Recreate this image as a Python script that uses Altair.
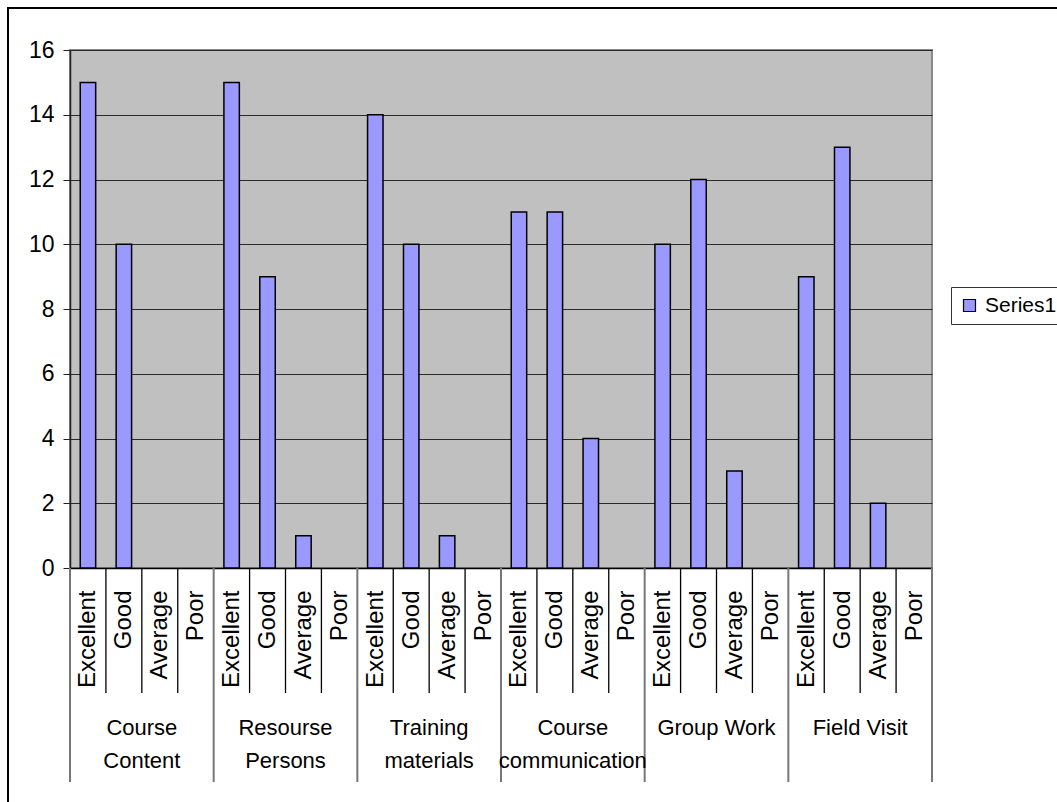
import altair as alt
import pandas as pd

groups = ["Course\nContent", "Resourse\nPersons", "Training\nmaterials",
          "Course\ncommunication", "Group Work", "Field Visit"]
ratings = ["Excellent", "Good", "Average", "Poor"]
values = [
    [15, 10, 0, 0],
    [15, 9, 1, 0],
    [14, 10, 1, 0],
    [11, 11, 4, 0],
    [10, 12, 3, 0],
    [9, 13, 2, 0],
]
series_name = "Series1"
y_ticks = [0, 2, 4, 6, 8, 10, 12, 14, 16]

FONT = "Liberation Sans"
W, H = 862, 518
n_cat = len(groups) * len(ratings)

rows = []
for g, grp in enumerate(groups):
    for r, rat in enumerate(ratings):
        i = g * len(ratings) + r
        rows.append({"idx": i, "x0": i + 0.285, "x1": i + 0.715,
                     "group": grp, "rating": rat, "value": values[g][r],
                     "series": series_name})
df = pd.DataFrame(rows)
bars_df = df[df["value"] > 0]

grp_df = pd.DataFrame({"gx": [g * len(ratings) + len(ratings) / 2 for g in range(len(groups))],
                       "label": groups})
inner_b = pd.DataFrame({"b": [i for i in range(n_cat + 1) if i % len(ratings) != 0]})
outer_b = pd.DataFrame({"b": [i for i in range(n_cat + 1) if i % len(ratings) == 0]})

xscale = alt.Scale(domain=[0, n_cat], nice=False, zero=False)
yscale = alt.Scale(domain=[0, 16], nice=False)

label_arr = "[" + ",".join("'%s'" % r for r in ratings) + "]"

x_axis = alt.Axis(values=[i + 0.5 for i in range(n_cat)],
                  labelExpr=label_arr + "[floor(datum.value) % 4]",
                  labelAngle=-90, labelFontSize=24, labelFont=FONT,
                  labelColor="black", labelPadding=22, ticks=False,
                  grid=False, title=None, domainColor="black",
                  domainWidth=1.5, labelOverlap=False, labelFlush=False,
                  labelBound=False, labelSeparation=0)

frame = alt.Chart(pd.DataFrame({"a": [0]})).mark_rect(
    fillOpacity=0, stroke="black", strokeWidth=2
).encode(x=alt.value(-62), x2=alt.value(1057 - 70 + 10),
         y=alt.value(-42), y2=alt.value(802 - 50 + 10))

bars = alt.Chart(bars_df).mark_bar(stroke="black", strokeWidth=1.5).encode(
    x=alt.X("x0:Q", scale=xscale, axis=x_axis),
    x2="x1:Q",
    y=alt.Y("value:Q", scale=yscale,
            axis=alt.Axis(values=y_ticks, title=None, labelFontSize=23,
                          labelFont=FONT, labelColor="black", tickSize=7,
                          tickColor="#222", domainColor="#222", domainWidth=1.5,
                          labelPadding=9, grid=True, gridColor="#2a2a2a",
                          gridWidth=1)),
    y2=alt.datum(0),
    color=alt.Color("series:N", scale=alt.Scale(range=["#9999FF"]),
                    legend=alt.Legend(title=None, orient="none", legendX=881,
                                      legendY=237, symbolType="square",
                                      symbolSize=144, symbolStrokeColor="black",
                                      symbolStrokeWidth=1.2, labelFontSize=21,
                                      labelFont=FONT, labelColor="black",
                                      strokeColor="#333", fillColor="white",
                                      padding=8, labelOffset=5)),
)

inner_rules = alt.Chart(inner_b).mark_rule(color="black", strokeWidth=1.3).encode(
    x=alt.X("b:Q", scale=xscale, axis=x_axis), y=alt.value(H), y2=alt.value(H + 125))
outer_rules = alt.Chart(outer_b).mark_rule(color="#777", strokeWidth=2).encode(
    x=alt.X("b:Q", scale=xscale, axis=x_axis), y=alt.value(H), y2=alt.value(H + 214))

grp_text = alt.Chart(grp_df).mark_text(
    font=FONT, fontSize=22, color="black", baseline="top", align="center",
    lineBreak="\n", lineHeight=33
).encode(x=alt.X("gx:Q", scale=xscale, axis=x_axis), y=alt.value(H + 150), text="label:N")

chart = alt.layer(frame, bars, inner_rules, outer_rules, grp_text).properties(
    width=W, height=H,
    background="white",
    autosize=alt.AutoSizeParams(type="none"),
    padding={"left": 70, "top": 50, "right": 125, "bottom": 234},
).configure_view(fill="#C0C0C0", stroke="#888", strokeWidth=2)

chart.save("out.html", embed_options={"renderer": "svg", "actions": False})
